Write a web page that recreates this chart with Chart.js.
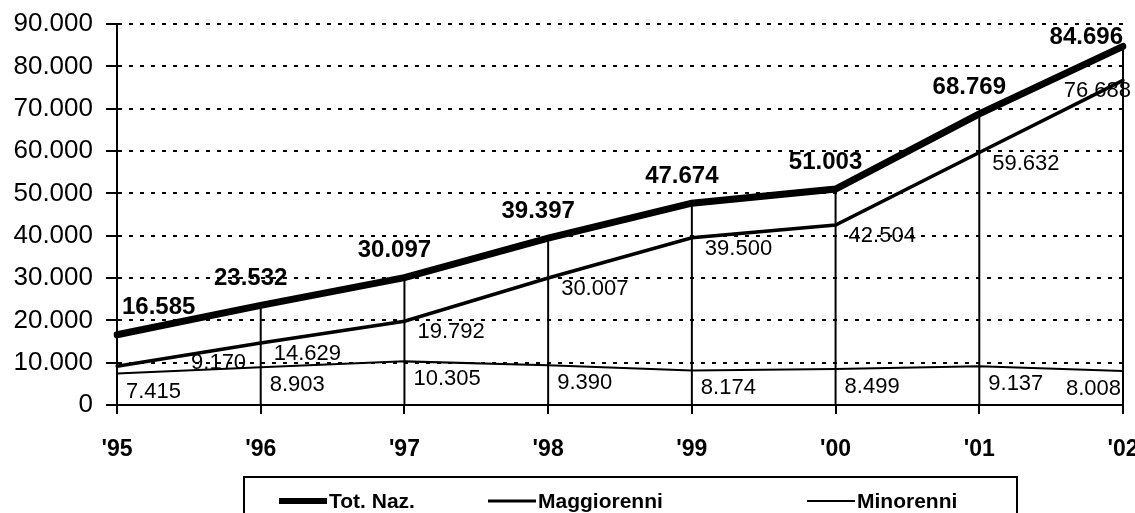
<!DOCTYPE html>
<html>
<head>
<meta charset="utf-8">
<script src="https://cdn.jsdelivr.net/npm/chart.js@4"></script>
<style>
  body { margin: 0; background: #fff; }
  #wrap { width: 1135px; height: 513px; position: relative; }
</style>
</head>
<body>
<div id="wrap"><canvas id="chart"></canvas></div>
<script>
const years = ["'95", "'96", "'97", "'98", "'99", "'00", "'01", "'02"];
const totNaz = [16585, 23532, 30097, 39397, 47674, 51003, 68769, 84696];
const maggiorenni = [9170, 14629, 19792, 30007, 39500, 42504, 59632, 76688];
const minorenni = [7415, 8903, 10305, 9390, 8174, 8499, 9137, 8008];

const FONT = "'Liberation Sans', Arial, sans-serif";

function fmt(v) {
  return String(v).replace(/\B(?=(\d{3})+(?!\d))/g, ".");
}

// vertical drop lines from the total line down to zero
const dropLines = {
  id: "dropLines",
  beforeDatasetsDraw(chart) {
    const { ctx, scales: { x, y } } = chart;
    ctx.save();
    ctx.strokeStyle = "#000";
    ctx.lineWidth = 2;
    totNaz.forEach((v, i) => {
      const px = x.getPixelForValue(i);
      ctx.beginPath();
      ctx.moveTo(px, y.getPixelForValue(v));
      ctx.lineTo(px, y.getPixelForValue(0));
      ctx.stroke();
    });
    ctx.restore();
  },
};

// value labels next to the points
const valueLabels = {
  id: "valueLabels",
  afterDatasetsDraw(chart) {
    const { ctx, chartArea } = chart;
    ctx.save();
    ctx.fillStyle = "#000";
    ctx.textBaseline = "middle";

    // total: bold, above the point
    ctx.font = "bold 24px " + FONT;
    chart.getDatasetMeta(0).data.forEach((pt, i) => {
      const text = fmt(totNaz[i]);
      const w = ctx.measureText(text).width;
      let lx = pt.x - w / 2 - 10;
      lx = Math.max(chartArea.left + 5, Math.min(lx, chartArea.right - w));
      const ly = Math.max(chartArea.top + 13, pt.y - 27);
      ctx.fillText(text, lx, ly);
    });

    // minors first, so adults can step around them
    ctx.font = "22px " + FONT;
    const minBoxes = [];
    chart.getDatasetMeta(2).data.forEach((pt, i) => {
      const text = fmt(minorenni[i]);
      const w = ctx.measureText(text).width;
      const lx = Math.min(pt.x + 9, chartArea.right - 2 - w);
      const ly = pt.y + 18;
      minBoxes.push({ l: lx, r: lx + w, t: ly - 9, b: ly + 9 });
      ctx.fillText(text, lx, ly);
    });

    chart.getDatasetMeta(1).data.forEach((pt, i) => {
      const text = fmt(maggiorenni[i]);
      const w = ctx.measureText(text).width;
      let lx = Math.min(pt.x + 13, chartArea.right + 8 - w);
      let ly = pt.y + 11;
      const mb = minBoxes[i];
      if (ly + 9 > mb.t && ly - 9 < mb.b && lx < mb.r && lx + w > mb.l) {
        lx = mb.r + 10;
        ly = pt.y - 3;
      }
      ctx.fillText(text, lx, ly);
    });
    ctx.restore();
  },
};

// boxed legend below the axis
const boxLegend = {
  id: "boxLegend",
  afterDraw(chart) {
    const { ctx } = chart;
    const items = [
      { label: "Tot. Naz.", width: 6, x: 279 },
      { label: "Maggiorenni", width: 3, x: 488 },
      { label: "Minorenni", width: 2, x: 807 },
    ];
    ctx.save();
    ctx.strokeStyle = "#000";
    ctx.lineWidth = 2;
    ctx.strokeRect(244, 477, 773, 60);
    ctx.font = "bold 21px " + FONT;
    ctx.textBaseline = "middle";
    ctx.fillStyle = "#000";
    items.forEach((it) => {
      ctx.lineWidth = it.width;
      ctx.beginPath();
      ctx.moveTo(it.x, 501);
      ctx.lineTo(it.x + 48, 501);
      ctx.stroke();
      ctx.fillText(it.label, it.x + 50, 502);
    });
    ctx.restore();
  },
};

new Chart(document.getElementById("chart"), {
  type: "line",
  data: {
    labels: years,
    datasets: [
      { label: "Tot. Naz.", data: totNaz, borderColor: "#000", borderWidth: 7 },
      { label: "Maggiorenni", data: maggiorenni, borderColor: "#000", borderWidth: 3.5 },
      { label: "Minorenni", data: minorenni, borderColor: "#000", borderWidth: 2 },
    ],
  },
  options: {
    responsive: true,
    maintainAspectRatio: false,
    animation: false,
    elements: {
      point: { radius: 0 },
      line: { tension: 0, borderCapStyle: "round" },
    },
    layout: { padding: { top: 24, right: 12, left: 0, bottom: 43 } },
    plugins: {
      legend: { display: false },
      tooltip: { enabled: false },
    },
    scales: {
      x: {
        offset: false,
        grid: { drawOnChartArea: false, color: "#000", lineWidth: 2, tickLength: 9 },
        border: { color: "#000", width: 2 },
        ticks: {
          color: "#000",
          padding: 22,
          maxRotation: 0,
          autoSkip: false,
          font: { family: FONT, size: 23, weight: "bold" },
        },
        afterFit(scale) {
          scale.height = 65;
          scale.paddingLeft = 0;
          scale.paddingRight = 0;
        },
      },
      y: {
        min: 0,
        max: 90000,
        grid: { color: "#000", lineWidth: 2, tickLength: 11, tickBorderDash: [] },
        border: { color: "#000", width: 2, dash: [4, 7] },
        ticks: {
          stepSize: 10000,
          color: "#000",
          padding: 13,
          font: { family: FONT, size: 26 },
          callback: (v) => fmt(v),
        },
        afterFit(scale) {
          scale.width = 117;
          scale.paddingTop = 0;
          scale.paddingBottom = 0;
        },
      },
    },
  },
  plugins: [dropLines, valueLabels, boxLegend],
});
</script>
</body>
</html>
